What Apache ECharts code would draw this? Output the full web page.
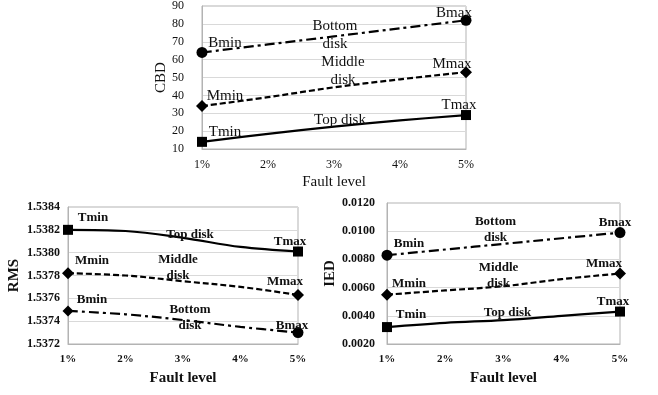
<!DOCTYPE html>
<html><head><meta charset="utf-8">
<script src="https://cdn.jsdelivr.net/npm/echarts@6/dist/echarts.min.js"></script>
<style>html,body{margin:0;padding:0;background:#fff}#c{width:658px;height:395px}</style>
</head><body><div id="c"></div>
<script>
// ---------- data ----------
const categories = ['1%', '2%', '3%', '4%', '5%'];

const cbdTop    = [14, 18.5, 22.5, 26, 29];
const cbdMiddle = [34, 39, 44.5, 49, 53];
const cbdBottom = [64, 68.5, 73, 77.5, 82];

const rmsTop    = [1.53820, 1.53819, 1.53813, 1.53805, 1.53801];
const rmsMiddle = [1.53782, 1.53780, 1.53775, 1.53770, 1.53763];
const rmsBottom = [1.53749, 1.53746, 1.53741, 1.53735, 1.53730];

const iedTop    = [0.0032, 0.0035, 0.0037, 0.0040, 0.0043];
const iedMiddle = [0.0055, 0.0058, 0.0061, 0.0066, 0.0070];
const iedBottom = [0.0083, 0.0087, 0.0091, 0.0095, 0.0099];

const topLabels    = ['Tmin', 'Top disk', 'Tmax'];
const middleLabels = ['Mmin', 'Middle\ndisk', 'Mmax'];
const bottomLabels = ['Bmin', 'Bottom\ndisk', 'Bmax'];

const xName = 'Fault level';
const yNames = ['CBD', 'RMS', 'IED'];

// ---------- layout / style ----------
const FONT = 'Liberation Serif';
const TXT = '#111';
const GRIDC = '#d9d9d9';
const BOXC = '#b3b3b3';

const offs = {
  cbd: { top: [[23,-10],[6,-7],[-7,-10]], mid: [[23,-10],[9,-16],[-14,-8]], bot: [[23,-9],[1,-1],[-12,-7]] },
  rms: { top: [[25,-12],[7,-3],[-8,-10]], mid: [[24,-13],[-5,-14],[-13,-13]], bot: [[24,-11],[7,-2],[-6,-7]] },
  ied: { top: [[24,-12],[4,-7],[-7,-10]], mid: [[22,-11],[-5,-11],[-16,-10]], bot: [[22,-12],[-8,-14],[-5,-10]] }
};

const SOLID = 'solid', DASH = [6, 3], DASHDOT = [10, 4, 3, 4];

function mkSeries(gi, values, labels, off, lineType, symbols, symSize, font) {
  const n = values.length;
  const idxMap = {0: 0, 2: 1};
  idxMap[n - 1] = 2;
  const data = values.map((v, i) => {
    const k = idxMap[i];
    if (k === undefined) return v;
    return {
      value: v,
      label: {
        show: true, position: 'inside', formatter: labels[k], offset: off[k],
        color: TXT, fontFamily: FONT, fontSize: font.size, fontWeight: font.weight,
        lineHeight: font.lh, align: 'center', verticalAlign: 'middle', textBorderWidth: 0
      }
    };
  });
  return {
    type: 'line', xAxisIndex: gi, yAxisIndex: gi, data: data, smooth: 0.35,
    showAllSymbol: true,
    symbol: (v, p) => p.dataIndex === 0 ? symbols[0] : symbols[1],
    symbolSize: (v, p) => (p.dataIndex === 0 || p.dataIndex === n - 1) ? symSize : 0,
    itemStyle: { color: '#000', borderWidth: 0 },
    lineStyle: { color: '#000', width: 2.2, type: lineType },
    label: { show: false },
    emphasis: { disabled: true },
    animation: false, z: 3
  };
}

function xAx(gi, font, nameGap) {
  return {
    type: 'category', gridIndex: gi, data: categories, boundaryGap: false,
    axisLine: { show: true, lineStyle: { color: BOXC } },
    axisTick: { show: false },
    axisLabel: { color: TXT, fontFamily: FONT, fontSize: font.tick, fontWeight: font.weight, margin: 10 },
    splitLine: { show: false },
    name: xName, nameLocation: 'middle', nameGap: nameGap,
    nameTextStyle: { color: TXT, fontFamily: FONT, fontSize: 15, fontWeight: font.weight }
  };
}
function yAx(gi, name, min, max, interval, dec, font, nameGap, margin) {
  return {
    type: 'value', gridIndex: gi, min: min, max: max, interval: interval,
    axisLine: { show: true, lineStyle: { color: BOXC } },
    axisTick: { show: false },
    axisLabel: { color: TXT, fontFamily: FONT, fontSize: 12, fontWeight: font.weight, margin: margin,
      formatter: v => v.toFixed(dec) },
    splitLine: { show: true, lineStyle: { color: GRIDC, width: 1 } },
    name: name, nameLocation: 'middle', nameGap: nameGap, nameRotate: 90,
    nameTextStyle: { color: TXT, fontFamily: FONT, fontSize: 15, fontWeight: font.weight }
  };
}

const fTop = { size: 15, weight: 'normal', lh: 18, tick: 12 };
const fBot = { size: 13, weight: 'bold', lh: 16, tick: 11 };

const chart = echarts.init(document.getElementById('c'), null, { renderer: 'canvas' });
chart.setOption({
  animation: false,
  backgroundColor: '#fff',
  grid: [
    { left: 202, top: 4, width: 264, height: 145, show: true, borderColor: BOXC, borderWidth: 1, backgroundColor: 'transparent' },
    { left: 68, top: 207, width: 230, height: 137, show: true, borderColor: BOXC, borderWidth: 1, backgroundColor: 'transparent' },
    { left: 387, top: 203, width: 233, height: 141, show: true, borderColor: BOXC, borderWidth: 1, backgroundColor: 'transparent' }
  ],
  xAxis: [ xAx(0, fTop, 26), xAx(1, fBot, 27), xAx(2, fBot, 27) ],
  yAxis: [
    yAx(0, yNames[0], 10, 90, 10, 0, fTop, 33, 18),
    yAx(1, yNames[1], 1.5372, 1.5384, 0.0002, 4, fBot, 46, 8),
    yAx(2, yNames[2], 0.002, 0.012, 0.002, 4, fBot, 49, 12)
  ],
  series: [
    mkSeries(0, cbdTop, topLabels, offs.cbd.top, SOLID, ['rect', 'rect'], 10, fTop),
    mkSeries(0, cbdMiddle, middleLabels, offs.cbd.mid, DASH, ['diamond', 'diamond'], 12, fTop),
    mkSeries(0, cbdBottom, bottomLabels, offs.cbd.bot, DASHDOT, ['circle', 'circle'], 11, fTop),
    mkSeries(1, rmsTop, topLabels, offs.rms.top, SOLID, ['rect', 'rect'], 10, fBot),
    mkSeries(1, rmsMiddle, middleLabels, offs.rms.mid, DASH, ['diamond', 'diamond'], 12, fBot),
    mkSeries(1, rmsBottom, bottomLabels, offs.rms.bot, DASHDOT, ['diamond', 'circle'], 11, fBot),
    mkSeries(2, iedTop, topLabels, offs.ied.top, SOLID, ['rect', 'rect'], 10, fBot),
    mkSeries(2, iedMiddle, middleLabels, offs.ied.mid, DASH, ['diamond', 'diamond'], 12, fBot),
    mkSeries(2, iedBottom, bottomLabels, offs.ied.bot, DASHDOT, ['circle', 'circle'], 11, fBot)
  ]
});
</script>
</body></html>
